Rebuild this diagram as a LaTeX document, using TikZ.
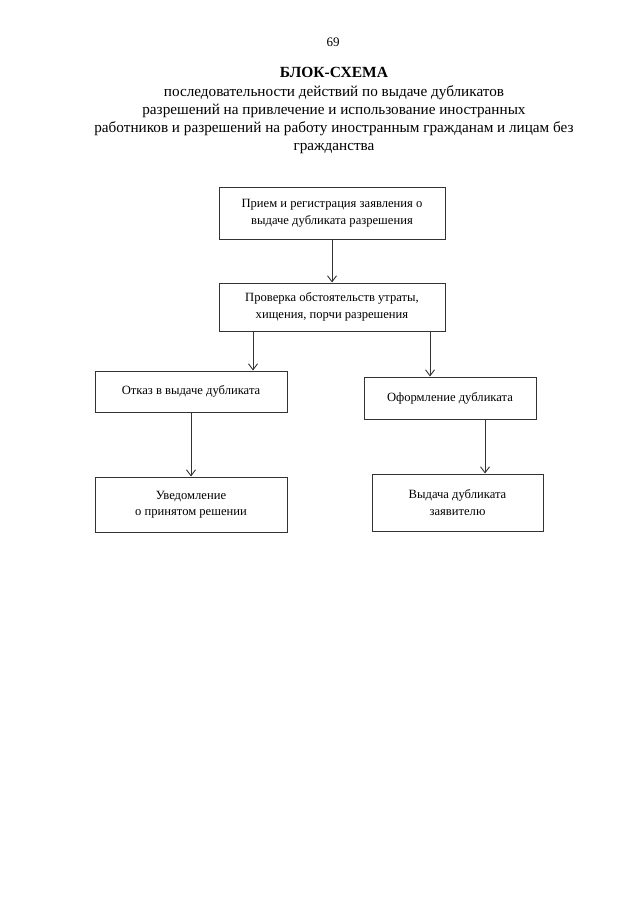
\documentclass[tikz,border=0pt]{standalone}
\usepackage{fontspec}
\setmainfont{Liberation Serif}
\usetikzlibrary{arrows.meta}
\begin{document}
\begin{tikzpicture}[x=1pt,y=-1pt,
  blk/.style={draw=black!80, line width=1pt, align=center, inner sep=0pt,
    font=\fontsize{12.6}{16.5}\selectfont},
  arr/.style={draw=black!80, line width=0.9pt, -{Straight Barb[length=6pt,width=9pt]}},
  ttext/.style={align=center, inner sep=0pt}]
\useasboundingbox[fill=white] (0,0) rectangle (640,905);

\node[ttext, font=\fontsize{13}{15}\selectfont] (pg) at (333,42) {69};
\node[ttext, font=\bfseries\fontsize{15.5}{18}\selectfont] (ttl) at (334,72) {БЛОК-СХЕМА};
\node[ttext, font=\fontsize{15.2}{18.2}\selectfont] (sub) at (334,119.5)
  {последовательности действий по выдаче дубликатов\\
   разрешений на привлечение и использование иностранных\\
   работников и разрешений на работу иностранным гражданам и лицам без\\
   гражданства};

\node[blk, minimum width=226pt, minimum height=52pt] (b1) at (332,213)
  {Прием и регистрация заявления о\\выдаче дубликата разрешения};
\node[blk, minimum width=226pt, minimum height=48pt] (b2) at (332,307)
  {Проверка обстоятельств утраты,\\хищения, порчи разрешения};
\node[blk, minimum width=192pt, minimum height=41pt] (b3) at (191,391.5)
  {Отказ в выдаче дубликата};
\node[blk, minimum width=172pt, minimum height=42pt] (b4) at (450,398)
  {Оформление дубликата};
\node[blk, minimum width=192pt, minimum height=55pt] (b5) at (191,504.5)
  {Уведомление\\о принятом решении};
\node[blk, minimum width=171pt, minimum height=57pt] (b6) at (457.5,502.5)
  {Выдача дубликата\\заявителю};

\coordinate (xl) at (253,0);
\coordinate (xr) at (430,0);
\coordinate (xb) at (485,0);

\draw[arr] (b1.south) -- (b2.north);
\draw[arr] (b2.south -| xl) -- (b3.north -| xl);
\draw[arr] (b2.south -| xr) -- (b4.north -| xr);
\draw[arr] (b3.south) -- (b5.north);
\draw[arr] (b4.south -| xb) -- (b6.north -| xb);
\end{tikzpicture}
\end{document}
